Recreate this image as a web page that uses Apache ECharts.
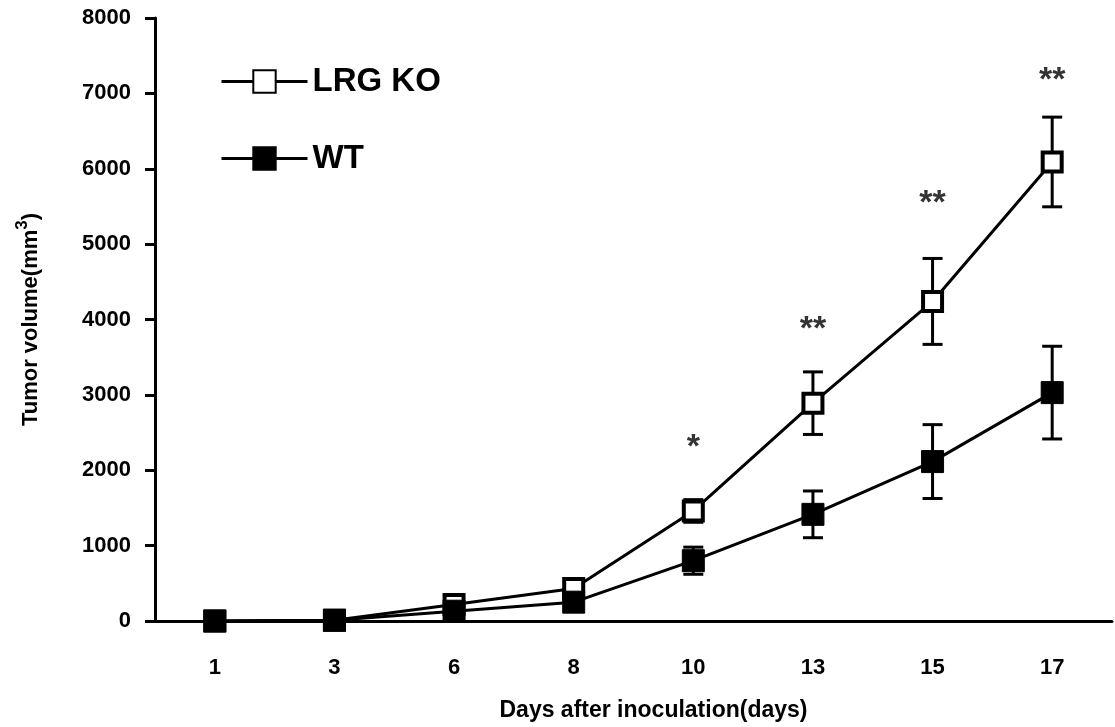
<!DOCTYPE html>
<html lang="en">
<head>
  <meta charset="UTF-8">
  <title>Tumor volume</title>
  <script src="https://cdn.jsdelivr.net/npm/echarts@6/dist/echarts.min.js"></script>
  <style>
    html, body { margin: 0; padding: 0; background: #fff; }
    #chart { width: 1115px; height: 727px; }
  </style>
</head>
<body>
  <div id="chart"></div>
  <script>
    // --- data ---
    const days = ['1', '3', '6', '8', '10', '13', '15', '17'];
    const koMean = [0, 10, 220, 430, 1460, 2890, 4240, 6090];
    const koSd = [0, 0, 40, 50, 150, 415, 570, 595];
    const wtMean = [0, 10, 130, 250, 800, 1415, 2115, 3030];
    const wtSd = [0, 0, 30, 40, 180, 310, 490, 615];
    const starText = ['', '', '', '', '*', '**', '**', '**'];
    const starY = [0, 0, 0, 0, 2420, 3980, 5660, 7290];

    const font = '"Liberation Sans", Arial, sans-serif';
    const chart = echarts.init(document.getElementById('chart'));

    // error bar data: [index, low, high]
    const errData = (mean, sd) => mean.map((m, i) => [i, m - sd[i], m + sd[i]]);

    const errSeries = (mean, sd) => ({
      type: 'custom',
      z: 1,
      silent: true,
      data: errData(mean, sd).filter(d => d[2] > d[1]),
      renderItem: function (params, api) {
        const lo = api.coord([api.value(0), api.value(1)]);
        const hi = api.coord([api.value(0), api.value(2)]);
        const half = 10;
        const st = { stroke: '#000', lineWidth: 3 };
        return {
          type: 'group',
          children: [
            { type: 'line', shape: { x1: hi[0], y1: hi[1], x2: lo[0], y2: lo[1] }, style: st },
            { type: 'line', shape: { x1: hi[0] - half, y1: hi[1], x2: hi[0] + half, y2: hi[1] }, style: st },
            { type: 'line', shape: { x1: lo[0] - half, y1: lo[1], x2: lo[0] + half, y2: lo[1] }, style: st }
          ]
        };
      }
    });

    const starData = [];
    starText.forEach((t, i) => {
      if (t) starData.push({ value: [i, starY[i]], label: { formatter: t } });
    });

    const option = {
      backgroundColor: '#fff',
      animation: false,
      grid: { left: 155, right: 3, top: 18, bottom: 104 },
      legend: {
        orient: 'vertical',
        left: 215,
        top: 60,
        itemWidth: 86,
        itemHeight: 28,
        itemGap: 44,
        lineStyle: { width: 3 },
        textStyle: { fontFamily: font, fontWeight: 'bold', fontSize: 33, color: '#000' },
        data: ['LRG KO', 'WT']
      },
      xAxis: {
        type: 'category',
        data: days,
        boundaryGap: true,
        axisLine: { lineStyle: { color: '#000', width: 3 } },
        axisTick: { length: 12, lineStyle: { color: '#000', width: 3 } },
        axisLabel: { color: '#000', fontFamily: font, fontWeight: 'bold', fontSize: 22, margin: 36 },
        name: 'Days after inoculation(days)',
        nameLocation: 'middle',
        nameGap: 78,
        nameTextStyle: { color: '#000', fontFamily: font, fontWeight: 'bold', fontSize: 23, padding: [0, 0, 0, 40] }
      },
      yAxis: {
        type: 'value',
        min: 0,
        max: 8000,
        interval: 1000,
        splitLine: { show: false },
        axisLine: { show: true, lineStyle: { color: '#000', width: 3 } },
        axisTick: { show: true, length: 10, lineStyle: { color: '#000', width: 3 } },
        axisLabel: {
          color: '#000', fontFamily: font, fontWeight: 'bold', fontSize: 22, margin: 24,
          padding: [10, 0, 0, 0], formatter: v => String(v)
        },
        name: 'Tumor volume(mm{sup|3})',
        nameLocation: 'middle',
        nameRotate: 90,
        nameGap: 108,
        nameTextStyle: {
          color: '#000', fontFamily: font, fontWeight: 'bold', fontSize: 22,
          rich: {
            sup: { fontFamily: font, fontWeight: 'bold', fontSize: 17, color: '#000', verticalAlign: 'top', padding: [0, 0, 16, 0] }
          }
        }
      },
      series: [
        errSeries(koMean, koSd),
        errSeries(wtMean, wtSd),
        {
          name: 'LRG KO',
          type: 'line',
          z: 3,
          data: koMean,
          symbol: 'rect',
          symbolSize: 19,
          lineStyle: { color: '#000', width: 3 },
          itemStyle: { color: '#fff', borderColor: '#000', borderWidth: 4 }
        },
        {
          name: 'WT',
          type: 'line',
          z: 4,
          data: wtMean,
          symbol: 'rect',
          symbolSize: 22,
          lineStyle: { color: '#000', width: 3 },
          itemStyle: { color: '#000', borderColor: '#000', borderWidth: 1 }
        },
        {
          type: 'scatter',
          silent: true,
          symbolSize: 1,
          itemStyle: { color: 'transparent' },
          data: starData,
          label: {
            show: true,
            position: 'inside',
            color: '#000',
            fontFamily: font,
            fontWeight: 'bold',
            fontSize: 34,
            offset: [0, 9]
          }
        }
      ]
    };

    chart.setOption(option);
  </script>
</body>
</html>
